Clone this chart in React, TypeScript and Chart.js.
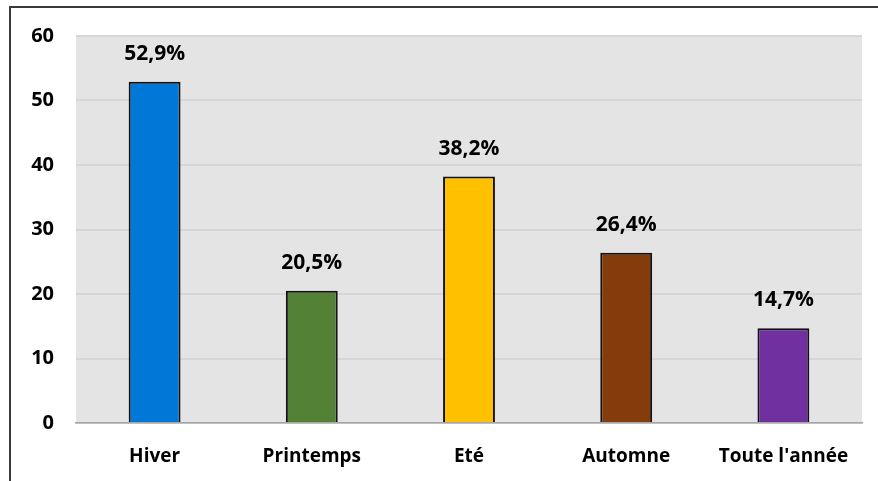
import React, { useEffect, useRef } from "react";
import { Chart, registerables } from "chart.js";

Chart.register(...registerables);

const categories = ["Hiver", "Printemps", "Eté", "Automne", "Toute l'année"];
const values = [52.9, 20.5, 38.2, 26.4, 14.7];
const valueLabels = ["52,9%", "20,5%", "38,2%", "26,4%", "14,7%"];
const barColors = ["#0078D7", "#538135", "#FFC000", "#843C0C", "#7030A0"];
const yTicks = [0, 10, 20, 30, 40, 50, 60];

const FONT = "'Open Sans', 'Liberation Sans', sans-serif";

export default function App() {
  const ref = useRef<HTMLCanvasElement | null>(null);

  useEffect(() => {
    if (!ref.current) return;
    const bgPlugin = {
      id: "plotBg",
      beforeDraw(chart: any) {
        const { ctx, chartArea } = chart;
        ctx.save();
        ctx.fillStyle = "#E4E4E4";
        ctx.fillRect(chartArea.left, chartArea.top, chartArea.right - chartArea.left, chartArea.bottom - chartArea.top);
        ctx.restore();
      },
    };
    const labelPlugin = {
      id: "valueLabels",
      afterDatasetsDraw(chart: any) {
        const { ctx } = chart;
        const meta = chart.getDatasetMeta(0);
        ctx.save();
        ctx.font = `bold 21px ${FONT}`;
        ctx.fillStyle = "#000";
        ctx.textAlign = "center";
        ctx.textBaseline = "middle";
        meta.data.forEach((bar: any, i: number) => {
          ctx.fillText(valueLabels[i], bar.x, bar.y - 28);
        });
        ctx.restore();
      },
    };
    const chart = new Chart(ref.current, {
      type: "bar",
      data: {
        labels: categories,
        datasets: [
          {
            data: values,
            backgroundColor: barColors,
            borderColor: "#111111",
            borderWidth: 2,
            borderSkipped: "bottom",
            categoryPercentage: 1,
            barPercentage: 0.33,
          },
        ],
      },
      options: {
        responsive: false,
        animation: false,
        layout: { padding: { left: 0, right: 16, top: 36, bottom: 0 } },
        plugins: { legend: { display: false }, tooltip: { enabled: false } },
        scales: {
          x: {
            grid: { display: false, drawTicks: false },
            border: { display: true, color: "#A6A6A6", width: 1.5 },
            ticks: { color: "#000", font: { family: FONT, size: 19, weight: "bold" }, padding: 22 },
            afterFit(scale: any) {
              scale.height = 58;
            },
          },
          y: {
            min: 0,
            max: 60,
            afterBuildTicks(scale: any) {
              scale.ticks = yTicks.map((v) => ({ value: v }));
            },
            grid: { color: "#D6D6D6", lineWidth: 2, drawTicks: false },
            border: { display: false },
            ticks: { color: "#000", font: { family: FONT, size: 20, weight: "bold" }, padding: 22 },
            afterFit(scale: any) {
              scale.width = 76;
            },
          },
        },
      },
      plugins: [bgPlugin, labelPlugin],
    });
    return () => chart.destroy();
  }, []);

  return (
    <div style={{ position: "fixed", left: 0, top: 0, width: 878, height: 481, background: "#fff" }}>
      <canvas ref={ref} width={878} height={481} style={{ position: "absolute", left: 0, top: 0 }} />
      <div
        style={{
          position: "absolute",
          left: 9,
          top: 6,
          width: 869,
          height: 475,
          borderTop: "2px solid #3A3A3A",
          borderLeft: "2px solid #3A3A3A",
          boxSizing: "border-box",
          pointerEvents: "none",
        }}
      />
    </div>
  );
}
